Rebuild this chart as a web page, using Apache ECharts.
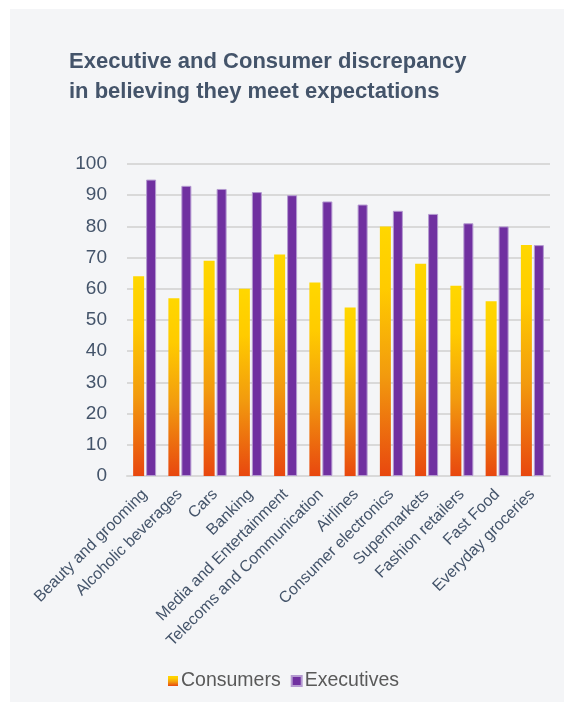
<!DOCTYPE html>
<html>
<head>
<meta charset="utf-8">
<script src="https://cdn.jsdelivr.net/npm/echarts@6/dist/echarts.min.js"></script>
<style>
html,body{margin:0;padding:0;background:#ffffff;}
#panel{position:absolute;left:10px;top:9px;width:554px;height:693px;background:#f4f5f7;}
#chart{position:absolute;left:0;top:0;width:564px;height:702px;}
</style>
</head>
<body>
<div id="panel"></div>
<div id="chart"></div>
<script>
const categories = ["Beauty and grooming","Alcoholic beverages","Cars","Banking","Media and Entertainment","Telecoms and Communication","Airlines","Consumer electronics","Supermarkets","Fashion retailers","Fast Food","Everyday groceries"];
const consumers = [64, 57, 69, 60, 71, 62, 54, 80, 68, 61, 56, 74];
const executives = [95, 93, 92, 91, 90, 88, 87, 85, 84, 81, 80, 74];
const yTicks = [0, 10, 20, 30, 40, 50, 60, 70, 80, 90, 100];

const grad = new echarts.graphic.LinearGradient(0, 0, 0, 1, [
  {offset: 0, color: '#FFD700'},
  {offset: 0.25, color: '#FFCB00'},
  {offset: 0.6, color: '#F29A0E'},
  {offset: 1, color: '#E8470F'}
]);
const txt = '#44546A';
const chart = echarts.init(document.getElementById('chart'));
chart.setOption({
  backgroundColor: 'transparent',
  textStyle: {fontFamily: 'Liberation Sans, Arial, sans-serif'},
  title: {
    text: 'Executive and Consumer discrepancy\nin believing they meet expectations',
    left: 64, top: 42,
    textStyle: {fontSize: 22, fontWeight: 'bold', color: txt, lineHeight: 30, fontFamily: 'Liberation Sans, Arial, sans-serif'}
  },
  legend: {
    left: 163, top: 666,
    itemWidth: 10, itemHeight: 10, itemGap: 10,
    textStyle: {fontSize: 19.5, color: '#595959', padding: [0,0,0,-2]},
    data: [
      {name: 'Consumers', icon: 'rect', itemStyle: {color: grad}},
      {name: 'Executives', icon: 'rect', itemStyle: {color: '#7030A0'}}
    ]
  },
  grid: {left: 127, right: 14, top: 164, bottom: 226, containLabel: false},
  xAxis: {
    type: 'category', data: categories,
    axisLine: {lineStyle: {color: '#d9d9d9', width: 2}},
    axisTick: {show: false},
    axisLabel: {rotate: 45, fontSize: 16, color: txt, margin: 16, interval: 0}
  },
  yAxis: {
    type: 'value', min: 0, max: 100, interval: 10,
    axisLine: {show: false}, axisTick: {show: false},
    axisLabel: {fontSize: 19, color: txt, margin: 20,
      formatter: v => yTicks.includes(v) ? String(v) : ''},
    splitLine: {lineStyle: {color: '#d9d9d9', width: 2}}
  },
  series: [
    {name: 'Consumers', type: 'bar', data: consumers, barWidth: 11, barGap: '18%',
     itemStyle: {color: grad}},
    {name: 'Executives', type: 'bar', data: executives, barWidth: 10,
     itemStyle: {color: '#7030A0', borderColor: '#b49ad0', borderWidth: 1}}
  ]
});
</script>
</body>
</html>
